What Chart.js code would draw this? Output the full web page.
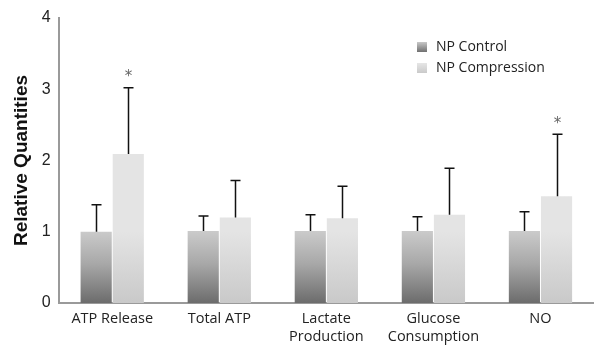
<!DOCTYPE html>
<html>
<head>
<meta charset="utf-8">
<script src="https://cdn.jsdelivr.net/npm/chart.js@4/dist/chart.umd.min.js"></script>
<style>
  html, body { margin: 0; padding: 0; background: #fff; overflow: hidden; }
  .wrap { position: relative; width: 594px; height: 345px; overflow: hidden; }
  .legend { position: absolute; left: 417px; top: 35px; font: 14px "Open Sans", sans-serif; color: #222; }
  .legend div { height: 21px; line-height: 21px; }
  .legend span { display: inline-block; width: 10px; height: 10px; margin-right: 9px; vertical-align: -1px; }
</style>
</head>
<body>
<div class="wrap">
  <canvas id="chart" width="594" height="345"></canvas>
  <div class="legend">
    <div><span style="background:linear-gradient(#c8c8c8,#707070)"></span>NP Control</div>
    <div><span style="background:linear-gradient(#e6e6e6,#cacaca)"></span>NP Compression</div>
  </div>
</div>
<script>
// values
const categories = ['ATP Release', 'Total ATP', ['Lactate', 'Production'], ['Glucose', 'Consumption'], 'NO'];
const controlValues = [1.0, 1.01, 1.01, 1.01, 1.01];
const controlErrTop = [1.38, 1.22, 1.24, 1.21, 1.28];
const compressionValues = [2.09, 1.20, 1.19, 1.24, 1.50];
const compressionErrTop = [3.02, 1.72, 1.64, 1.89, 2.37];
const compressionStars = [true, false, false, false, true];
const yTicks = [0, 1, 2, 3, 4];

function barGradient(ctx, dark) {
  const chart = ctx.chart;
  const area = chart.chartArea;
  if (!area) return dark ? '#999' : '#ddd';
  const y = chart.scales.y;
  const g = chart.ctx.createLinearGradient(0, y.getPixelForValue(0), 0, y.getPixelForValue(1));
  if (dark) {
    g.addColorStop(0, '#6c6c6c');
    g.addColorStop(0.55, '#a8a8a8');
    g.addColorStop(1, '#cacaca');
  } else {
    g.addColorStop(0, '#c9c9c9');
    g.addColorStop(1, '#e4e4e4');
  }
  return g;
}

// draws the upward error bars and the asterisks
const errorBars = {
  id: 'errorBars',
  afterDatasetsDraw(chart) {
    const c = chart.ctx;
    const y = chart.scales.y;
    const tops = [controlErrTop, compressionErrTop];
    c.save();
    c.strokeStyle = '#111';
    c.lineWidth = 1.5;
    tops.forEach((arr, di) => {
      chart.getDatasetMeta(di).data.forEach((bar, i) => {
        const x = Math.round(bar.x) + 0.5;
        const y0 = y.getPixelForValue(chart.data.datasets[di].data[i]);
        const y1 = y.getPixelForValue(arr[i]);
        c.beginPath();
        c.moveTo(x, y0);
        c.lineTo(x, y1);
        c.moveTo(x - 5, y1);
        c.lineTo(x + 5, y1);
        c.stroke();
        if (di === 1 && compressionStars[i]) {
          c.fillStyle = '#666';
          c.font = '15px "DejaVu Sans", sans-serif';
          c.textAlign = 'center';
          c.textBaseline = 'bottom';
          c.fillText('*', x, y1 - 3);
        }
      });
    });
    c.restore();
  }
};

new Chart(document.getElementById('chart'), {
  type: 'bar',
  data: {
    labels: categories,
    datasets: [
      { label: 'NP Control', data: controlValues, backgroundColor: ctx => barGradient(ctx, true) },
      { label: 'NP Compression', data: compressionValues, backgroundColor: ctx => barGradient(ctx, false) }
    ]
  },
  options: {
    responsive: false,
    animation: false,
    layout: { padding: { top: 18, right: 0, bottom: 0, left: 6 } },
    datasets: { bar: { categoryPercentage: 0.6, barPercentage: 0.97 } },
    plugins: { legend: { display: false }, tooltip: { enabled: false } },
    scales: {
      x: {
        afterFit: axis => { axis.height = 42; },
        grid: { display: false, drawTicks: false },
        border: { color: '#9a9a9a', width: 2 },
        ticks: { color: '#222', font: { family: '"Open Sans", sans-serif', size: 14.5, lineHeight: 1.3 }, padding: 6, maxRotation: 0 }
      },
      y: {
        min: 0, max: 4,
        afterBuildTicks: axis => { axis.ticks = yTicks.map(v => ({ value: v })); },
        grid: { display: false, drawTicks: true, tickLength: 5, tickColor: '#9a9a9a', tickWidth: 1.5 },
        border: { color: '#9a9a9a', width: 2 },
        ticks: { color: '#222', font: { family: '"Liberation Sans", Arial, sans-serif', size: 16 }, padding: 3 },
        title: { display: true, text: 'Relative Quantities', color: '#111', font: { family: '"Liberation Sans", Arial, sans-serif', size: 19, weight: 'bold' }, padding: { bottom: 6 } }
      }
    }
  },
  plugins: [errorBars]
});
</script>
</body>
</html>
